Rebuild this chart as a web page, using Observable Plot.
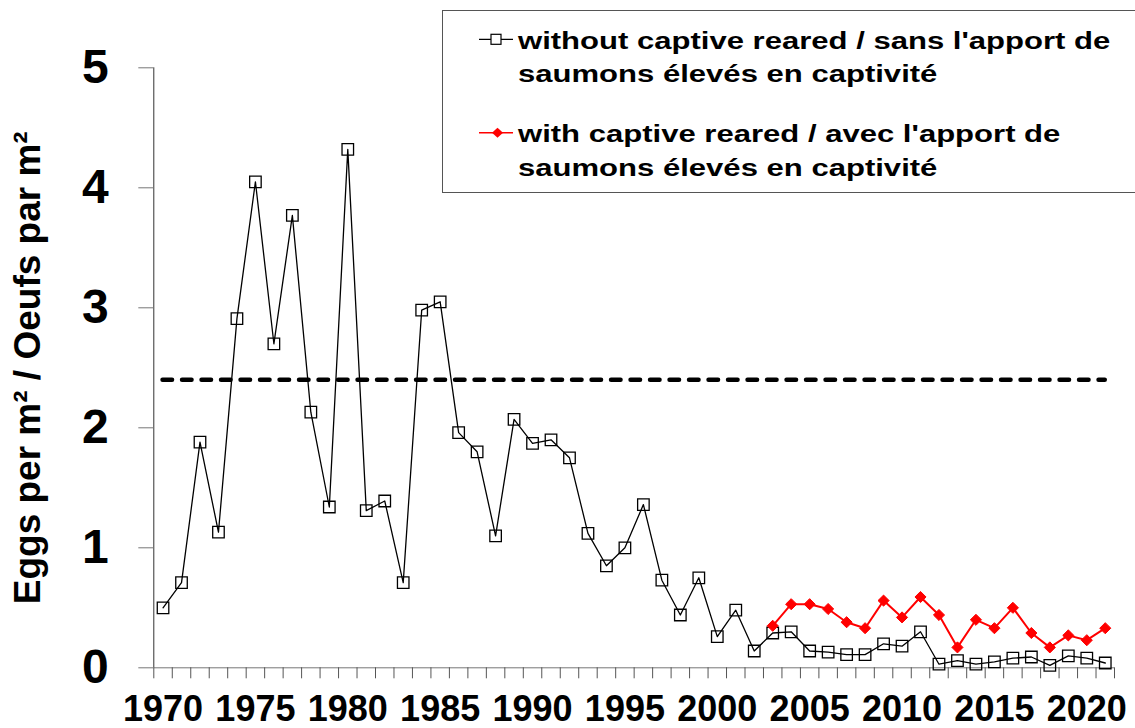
<!DOCTYPE html>
<html>
<head>
<meta charset="utf-8">
<script src="https://cdn.jsdelivr.net/npm/d3@7"></script>
<script src="https://cdn.jsdelivr.net/npm/@observablehq/plot@0.6"></script>
<style>
  html, body { margin: 0; padding: 0; background: #fff; overflow: hidden; }
  #wrap { position: relative; width: 1135px; height: 728px; font-family: "Liberation Sans", Arial, sans-serif; }
  #legend { position: absolute; left: 442px; top: 10px; width: 720px; height: 183px; border: 1px solid #555; box-sizing: border-box; background: #fff; }
  .lg { position: absolute; left: 75px; font-size: 23px; line-height: 23px; font-weight: bold; white-space: nowrap; transform: scaleX(1.35); transform-origin: 0 0; color: #000; }
  #lgsym { position: absolute; left: 0; top: 0; }
</style>
</head>
<body>
<div id="wrap"></div>
<script>
// ---- data ----
const years = [1970,1971,1972,1973,1974,1975,1976,1977,1978,1979,1980,1981,1982,1983,1984,1985,1986,1987,1988,1989,1990,1991,1992,1993,1994,1995,1996,1997,1998,1999,2000,2001,2002,2003,2004,2005,2006,2007,2008,2009,2010,2011,2012,2013,2014,2015,2016,2017,2018,2019,2020,2021];
const withoutCaptive = [0.50,0.71,1.88,1.13,2.91,4.05,2.70,3.77,2.13,1.34,4.32,1.31,1.39,0.71,2.98,3.05,1.96,1.80,1.10,2.07,1.87,1.90,1.75,1.12,0.85,1.00,1.36,0.73,0.44,0.75,0.26,0.48,0.14,0.29,0.30,0.14,0.13,0.11,0.11,0.20,0.18,0.30,0.03,0.06,0.03,0.05,0.08,0.09,0.02,0.10,0.08,0.04];
const withYears = [2003,2004,2005,2006,2007,2008,2009,2010,2011,2012,2013,2014,2015,2016,2017,2018,2019,2020,2021];
const withCaptive = [0.35,0.53,0.53,0.49,0.38,0.33,0.56,0.42,0.59,0.44,0.17,0.40,0.33,0.50,0.29,0.17,0.27,0.23,0.33];
const targetValue = 2.4;
const targetYears = [1970, 2021];
const yTicks = [0,1,2,3,4,5];
const xLabelYears = [1970,1975,1980,1985,1990,1995,2000,2005,2010,2015,2020];
const yLabel = "Eggs per m² / Oeufs par m²";
const legendLabels = [
  ["without captive reared / sans l'apport de", "saumons élevés en captivité"],
  ["with captive reared / avec l'apport de", "saumons élevés en captivité"]
];

const withoutData = years.map((y, i) => ({year: y, value: withoutCaptive[i]}));
const withData = withYears.map((y, i) => ({year: y, value: withCaptive[i]}));
const boundaries = [...years.map(y => y - 0.5), years[years.length - 1] + 0.5];

const chart = Plot.plot({
  width: 1135,
  height: 728,
  marginLeft: 153.3,
  marginRight: 21,
  marginTop: 67.3,
  marginBottom: 60.7,
  x: {domain: [boundaries[0], boundaries[boundaries.length - 1]]},
  y: {domain: [0, 5]},
  style: {fontFamily: "'Liberation Sans', Arial, sans-serif", fontWeight: "bold", color: "#000", background: "transparent", overflow: "visible"},
  marks: [
    Plot.ruleY([0], {stroke: "#777", strokeWidth: 1}),
    Plot.ruleX([boundaries[0]], {stroke: "#333", strokeWidth: 1}),
    Plot.axisY({ticks: yTicks, tickSize: 15, tickPadding: 30, fontSize: 48, fontWeight: "bold", label: null, stroke: "#777", tickFormat: d => String(d)}),
    Plot.axisX({ticks: boundaries, tickSize: 11, tickFormat: () => "", label: null, stroke: "#555"}),
    Plot.text(xLabelYears, {x: d => d, text: d => String(d), frameAnchor: "bottom", lineAnchor: "top", textAnchor: "middle", dy: 28, fontSize: 36, fontWeight: "bold", fill: "#000"}),
    Plot.ruleY([targetValue], {x1: targetYears[0], x2: targetYears[1], stroke: "#000", strokeWidth: 4.5, strokeDasharray: "9.5,10", strokeLinecap: "round"}),
    Plot.line(withoutData, {x: "year", y: "value", stroke: "#000", strokeWidth: 1.3}),
    Plot.dot(withoutData, {x: "year", y: "value", symbol: "square", r: 6.5, stroke: "#000", strokeWidth: 1.3, fill: "none"}),
    Plot.line(withData, {x: "year", y: "value", stroke: "#ff0000", strokeWidth: 2}),
    Plot.dot(withData, {x: "year", y: "value", symbol: "diamond2", r: 5, fill: "#ff0000", stroke: "#ff0000", strokeWidth: 1}),
    Plot.text([yLabel], {text: d => d, frameAnchor: "left", textAnchor: "middle", rotate: -90, dx: -140, lineAnchor: "top", fontSize: 37, fontWeight: "bold", fill: "#000"})
  ]
});

const wrap = document.getElementById("wrap");
wrap.appendChild(chart);

// legend overlay
const legend = document.createElement("div");
legend.id = "legend";
const baselines = [[38.3, 71.7], [131.7, 165]];
legendLabels.forEach((lines, gi) => {
  lines.forEach((t, li) => {
    const d = document.createElement("div");
    d.className = "lg";
    d.textContent = t;
    d.style.top = (baselines[gi][li] - 19.5) + "px";
    legend.appendChild(d);
  });
});
const ns = "http://www.w3.org/2000/svg";
const sym = document.createElementNS(ns, "svg");
sym.setAttribute("id", "lgsym");
sym.setAttribute("width", "80");
sym.setAttribute("height", "180");
sym.innerHTML =
  '<line x1="36" x2="70" y1="28.3" y2="28.3" stroke="#000" stroke-width="1.2"/>' +
  '<rect x="48" y="23.3" width="10" height="10" fill="#fff" stroke="#000" stroke-width="1.2"/>' +
  '<line x1="36" x2="70" y1="121.7" y2="121.7" stroke="#ff0000" stroke-width="1.5"/>' +
  '<path d="M54.5,116.7 L60,121.7 L54.5,126.7 L49,121.7 Z" fill="#ff0000"/>';
legend.appendChild(sym);
wrap.appendChild(legend);
chart.style.position = "absolute";
chart.style.left = "0";
chart.style.top = "0";
</script>
</body>
</html>
